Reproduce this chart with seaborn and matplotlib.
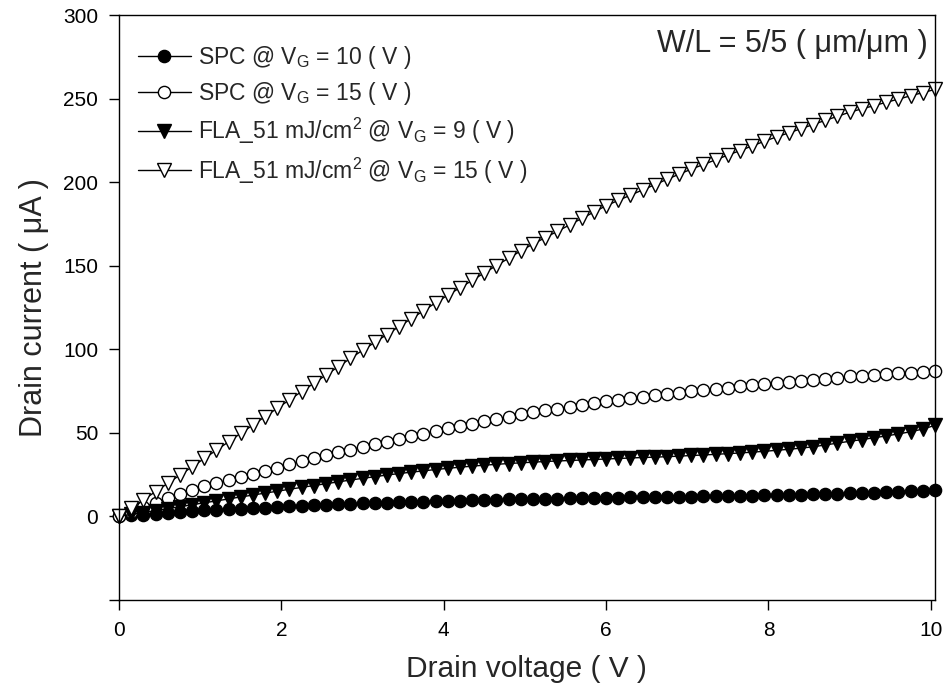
import numpy as np
import matplotlib
matplotlib.use("Agg")
import matplotlib.pyplot as plt
import seaborn as sns

# -------------------------
# Data
# -------------------------
drain_voltage = [0.0, 0.15, 0.3, 0.45, 0.6, 0.75, 0.9, 1.05, 1.2, 1.35, 1.5, 1.65, 1.8, 1.95,
                 2.1, 2.25, 2.4, 2.55, 2.7, 2.85, 3.0, 3.15, 3.3, 3.45, 3.6, 3.75, 3.9, 4.05,
                 4.2, 4.35, 4.5, 4.65, 4.8, 4.95, 5.1, 5.25, 5.4, 5.55, 5.7, 5.85, 6.0, 6.15,
                 6.3, 6.45, 6.6, 6.75, 6.9, 7.05, 7.2, 7.35, 7.5, 7.65, 7.8, 7.95, 8.1, 8.25,
                 8.4, 8.55, 8.7, 8.85, 9.0, 9.15, 9.3, 9.45, 9.6, 9.75, 9.9, 10.05]

spc_vg10 = [0.0, 0.6, 1.1, 1.7, 2.2, 2.7, 3.2, 3.6, 4.0, 4.3, 4.7, 5.0, 5.3, 5.7,
            6.0, 6.3, 6.6, 6.9, 7.2, 7.5, 7.8, 8.0, 8.2, 8.5, 8.7, 8.9, 9.1, 9.3,
            9.5, 9.7, 9.9, 10.0, 10.2, 10.3, 10.5, 10.6, 10.7, 10.8, 11.0, 11.1, 11.2, 11.3,
            11.4, 11.5, 11.6, 11.7, 11.8, 11.9, 12.0, 12.1, 12.3, 12.4, 12.5, 12.7, 12.8, 13.0,
            13.1, 13.3, 13.5, 13.7, 13.9, 14.1, 14.3, 14.6, 14.9, 15.2, 15.5, 15.9]

spc_vg15 = [0.0, 2.8, 5.6, 8.3, 10.9, 13.4, 15.8, 18.0, 20.0, 21.9, 23.8, 25.6, 27.4, 29.2,
            31.5, 33.2, 34.9, 36.6, 38.3, 40.0, 41.7, 43.3, 44.8, 46.4, 48.0, 49.6, 51.2, 52.7,
            54.1, 55.5, 57.0, 58.4, 59.8, 61.2, 62.4, 63.5, 64.6, 65.8, 66.9, 68.0, 69.2, 70.0,
            70.8, 71.7, 72.5, 73.3, 74.1, 74.9, 75.7, 76.4, 77.1, 77.8, 78.5, 79.3, 79.9, 80.6,
            81.2, 81.9, 82.5, 83.1, 83.8, 84.2, 84.7, 85.1, 85.6, 86.0, 86.5, 86.9]

fla_vg9 = [0.0, 1.2, 2.3, 3.5, 4.7, 5.8, 7.0, 8.2, 9.3, 10.5, 11.7, 12.8, 14.0, 15.1,
           16.3, 17.4, 18.5, 19.6, 20.7, 21.8, 22.8, 23.8, 24.8, 25.7, 26.5, 27.3, 28.1, 28.8,
           29.5, 30.1, 30.7, 31.2, 31.7, 32.1, 32.5, 32.9, 33.2, 33.5, 33.8, 34.1, 34.4, 34.7,
           35.0, 35.3, 35.5, 35.8, 36.1, 36.5, 36.8, 37.2, 37.6, 38.0, 38.5, 39.0, 39.6, 40.2,
           40.9, 41.7, 42.8, 43.9, 45.0, 46.0, 47.1, 48.2, 49.4, 50.7, 52.3, 54.5]

fla_vg15 = [0.0, 5.0, 9.9, 14.9, 19.8, 24.8, 29.7, 34.7, 39.7, 44.7, 49.8, 54.8, 59.8, 64.8,
            69.8, 74.8, 79.7, 84.7, 89.6, 94.6, 99.5, 104.2, 108.9, 113.7, 118.4, 123.1, 127.9, 132.5,
            136.9, 141.3, 145.8, 150.2, 154.6, 159.0, 163.1, 166.9, 170.7, 174.5, 178.4, 182.2, 186.0, 189.2,
            192.3, 195.5, 198.6, 201.8, 204.9, 207.9, 210.7, 213.5, 216.3, 219.0, 221.8, 224.6, 227.2, 229.6,
            232.1, 234.6, 237.1, 239.5, 242.0, 244.0, 245.9, 247.9, 249.8, 251.8, 253.7, 255.6]

series_labels = [
    r"SPC @ V$_{\mathrm{G}}$ = 10 ( V )",
    r"SPC @ V$_{\mathrm{G}}$ = 15 ( V )",
    r"FLA_51 mJ/cm$^{\mathrm{2}}$ @ V$_{\mathrm{G}}$ = 9 ( V )",
    r"FLA_51 mJ/cm$^{\mathrm{2}}$ @ V$_{\mathrm{G}}$ = 15 ( V )",
]

x_ticks = [0, 2, 4, 6, 8, 10]
y_ticks = [-50, 0, 50, 100, 150, 200, 250, 300]
y_tick_labels = ["", "0", "50", "100", "150", "200", "250", "300"]

# -------------------------
# Style
# -------------------------
sns.set_style("ticks")
plt.rcParams["font.family"] = ["Liberation Sans", "DejaVu Sans"]
plt.rcParams["mathtext.fontset"] = "custom"
plt.rcParams["mathtext.rm"] = "Liberation Sans"
plt.rcParams["mathtext.it"] = "Liberation Sans:italic"
plt.rcParams["mathtext.bf"] = "Liberation Sans:bold"

fig = plt.figure(figsize=(9.52, 6.95), dpi=100)
ax = fig.add_axes([0.125, 0.1367, 0.857, 0.8413])

styles = [
    dict(marker="o", markerfacecolor="black", markersize=8.8),
    dict(marker="o", markerfacecolor="white", markersize=8.8),
    dict(marker="v", markerfacecolor="black", markersize=10),
    dict(marker="v", markerfacecolor="white", markersize=10),
]

for yvals, lab, st in zip([spc_vg10, spc_vg15, fla_vg9, fla_vg15], series_labels, styles):
    sns.lineplot(x=drain_voltage, y=yvals, ax=ax, color="black", linewidth=1.0,
                 markeredgecolor="black", markeredgewidth=1.0, estimator=None,
                 sort=False, label=lab, clip_on=False, **st)

ax.set_xlim(0, 10.05)
ax.set_ylim(-50, 300)
ax.set_xticks(x_ticks)
ax.set_yticks(y_ticks)
ax.set_yticklabels(y_tick_labels)
ax.tick_params(axis="both", direction="out", length=7, width=1, labelsize=15,
               pad=8, colors="black")
for sp in ax.spines.values():
    sp.set_visible(True)
    sp.set_linewidth(1.0)
    sp.set_color("black")

ax.set_xlabel("Drain voltage ( V )", fontsize=21.5, labelpad=11)
ax.set_ylabel("Drain current ( \u03bcA )", fontsize=22, labelpad=10)

ax.text(0.991, 0.937, "W/L = 5/5 ( \u03bcm/\u03bcm )", transform=ax.transAxes,
        ha="right", va="baseline", fontsize=22)

ax.legend(loc="upper left", bbox_to_anchor=(0.0, 0.984), frameon=False, fontsize=16.5,
          handlelength=2.3, handletextpad=0.3, labelspacing=0.4, borderaxespad=0.43)

fig.savefig("out.png", dpi=100)
